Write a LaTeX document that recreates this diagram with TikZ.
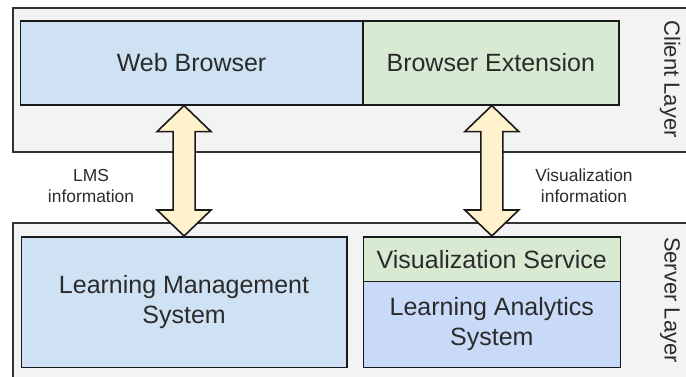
\documentclass[tikz,border=0pt]{standalone}
\usepackage{fontspec}
\setmainfont{Liberation Sans}
\usetikzlibrary{calc}

\definecolor{layerfill}{HTML}{F3F3F3}
\definecolor{webblue}{HTML}{CFE2F3}
\definecolor{extgreen}{HTML}{D9EAD3}
\definecolor{lasblue}{HTML}{C9DAF8}
\definecolor{arrowfill}{HTML}{FFF2CC}
\definecolor{txt}{HTML}{2B2B2B}

% double block arrow between two points (top, bottom)
\newcommand{\infoarrow}[2]{%
  \draw[blockarrow] (#1) -- ++(27,26) -- ++(-16,0) -- ($(#2)+(11,-26)$) -- ++(16,0)
    -- (#2) -- ++(-27,-26) -- ++(16,0) -- ($(#1)+(-11,26)$) -- ++(-16,0) -- cycle;}

\begin{document}
\begin{tikzpicture}[x=1pt,y=-1pt,
    layer/.style={draw=black!80,line width=2pt,fill=layerfill,inner sep=0pt,anchor=north west},
    box/.style={draw=black!90,line width=1.6pt,inner sep=0pt,anchor=north west,
      align=center,text=txt,font=\fontsize{25}{30}\selectfont},
    note/.style={align=center,text=txt,font=\fontsize{17.4}{21}\selectfont},
    side/.style={rotate=-90,text=txt,font=\fontsize{22}{26}\selectfont},
    blockarrow/.style={draw=black!90,line width=1.6pt,fill=arrowfill,line join=miter}]
    \useasboundingbox (0,0) rectangle (686,377);
    \clip (0,0) rectangle (686,377);

    % layers
    \node[layer,minimum width=700pt,minimum height=143.5pt] (client) at (11.5,7.5) {};
    \node[layer,minimum width=700pt,minimum height=170pt] (server) at (11.5,221.7) {};
    \node[side] (cl) at (670,79) {Client Layer};
    \node[side] (sl) at (670,300) {Server Layer};

    % client side
    \node[box,fill=webblue,minimum width=342.5pt,minimum height=84pt] (wb) at (19.5,20) {Web Browser};
    \node[box,fill=extgreen,minimum width=256pt,minimum height=84pt] (be) at (362,20) {Browser Extension};

    % server side
    \node[box,fill=webblue,minimum width=325.5pt,minimum height=130.5pt] (lms) at (20.5,236)
        {Learning Management\\System};
    \node[box,fill=extgreen,minimum width=257pt,minimum height=44.7pt] (vs) at (362.5,236)
        {Visualization Service};
    \node[box,fill=lasblue,minimum width=257pt,minimum height=85.8pt] (las) at (362.5,280.7)
        {Learning Analytics\\System};

    % information flow
    \infoarrow{wb.south -| lms.north}{lms.north}
    \infoarrow{be.south -| vs.north}{vs.north}

    \node[note] (lmsinfo) at (91,186) {LMS\\information};
    \node[note] (visinfo) at (584,186) {Visualization\\information};
\end{tikzpicture}
\end{document}
